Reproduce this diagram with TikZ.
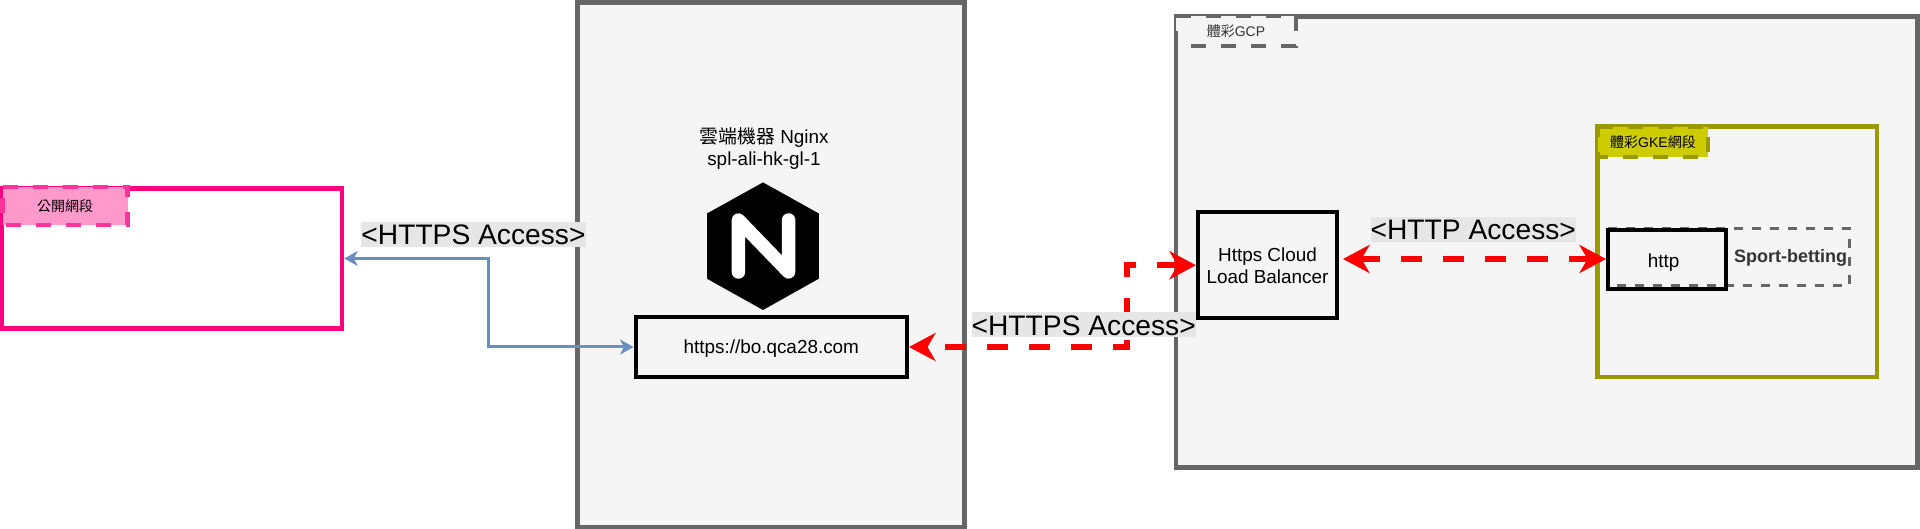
\documentclass[tikz,border=0pt]{standalone}
\usepackage{fontspec}
\setmainfont{Liberation Sans}
\newfontfamily\cjk{Noto Sans CJK TC}
\usetikzlibrary{arrows.meta}
\definecolor{greyline}{HTML}{666666}
\definecolor{greyfill}{HTML}{F5F5F5}
\definecolor{pinkline}{HTML}{FF0080}
\definecolor{pinkdash}{HTML}{FF3399}
\definecolor{pinkfill}{HTML}{FF99CC}
\definecolor{oliveline}{HTML}{999900}
\definecolor{olivefill}{HTML}{CCCC00}
\definecolor{bluelink}{HTML}{6C8EBF}
\definecolor{labelbg}{HTML}{E6E6E6}
\definecolor{darktext}{HTML}{333333}
\tikzset{
  zone/.style={draw=greyline,fill=greyfill,line width=4.5pt,inner sep=0pt},
  plainbox/.style={draw=black,line width=4pt,inner sep=0pt,align=center,font=\fontsize{18.9}{22}\selectfont},
  tagbox/.style={inner sep=0pt,outer sep=0pt,font=\fontsize{14}{16}\selectfont},
  tagline/.style={line width=4.5pt,dash pattern=on 15pt off 15pt},
  blueconn/.style={draw=bluelink,line width=3pt,>={Stealth[length=13.5pt,width=15pt,inset=4pt]}},
  redconn/.style={draw=red,line width=6pt,>={Stealth[length=26.5pt,width=28pt,inset=8pt]}},
  access/.style={fill=labelbg,inner xsep=0pt,inner ysep=0pt,text height=23pt,text depth=2pt,font=\fontsize{28.2}{30}\selectfont}
}
\begin{document}
\begin{tikzpicture}[x=1pt,y=-1pt]
\useasboundingbox (0,0) rectangle (1920,529);
% zones
\node[zone,minimum width=387pt,minimum height=524.5pt] (middle) at (771,264.75) {};
\node[zone,minimum width=741.5pt,minimum height=451.2pt] (gcp) at (1546.75,241.9) {};
\node[draw=pinkline,line width=4.5pt,inner sep=0pt,minimum width=340pt,minimum height=140pt] (pink) at (172,258.5) {};
\node[draw=oliveline,line width=4.5pt,inner sep=0pt,minimum width=279.5pt,minimum height=250.5pt] (gke) at (1737.25,251.75) {};
% tags
\node[tagbox,fill=pinkfill,minimum width=125pt,minimum height=38pt] (pinktag) at (65,206) {\cjk 公開網段};
\draw[tagline,pinkdash] (pinktag.north west) -- (pinktag.north east) -- (pinktag.south east) -- (pinktag.south west) -- cycle;
\node[tagbox,fill=greyfill,text=darktext,minimum width=120pt,minimum height=30pt] (gcptag) at (1236,31) {\cjk 體彩\normalfont GCP};
\draw[tagline,greyline] (gcptag.north west) -- (gcptag.north east) -- (gcptag.south east) -- (gcptag.south west) -- cycle;
\node[tagbox,fill=olivefill,minimum width=110pt,minimum height=30pt] (gketag) at (1653,142) {\cjk 體彩\normalfont GKE\cjk 網段};
\draw[tagline,oliveline] (gketag.north west) -- (gketag.north east) -- (gketag.south east) -- (gketag.south west) -- cycle;
% nginx
\node[align=center,inner sep=0pt,font=\fontsize{18.9}{22}\selectfont] (title) at (764,148.5) {{\cjk 雲端機器} Nginx\\spl-ali-hk-gl-1};
\fill[black] (763,182.4) -- (818.8,213.5) -- (818.8,278.7) -- (763,310) -- (707,278.7) -- (707,213.5) -- cycle;
\draw[white,line width=13.5pt,line cap=round,line join=round] (738.4,272) -- (738.4,220) -- (788.6,272) -- (788.6,220);
% boxes
\node[plainbox,fill=greyfill,minimum width=271.5pt,minimum height=60.6pt] (https) at (771.25,347) {\raisebox{-7pt}[8pt][8pt]{https://bo.qca28.com}};
\node[plainbox,fill=greyfill,minimum width=139pt,minimum height=106.5pt] (lb) at (1267.5,265.25) {Https Cloud\\Load Balancer};
\node[inner sep=0pt,outer sep=0pt,minimum width=241.5pt,minimum height=57pt,text width=237.5pt,align=right,text=darktext,font=\fontsize{18}{20}\bfseries\selectfont] (sport) at (1728.25,257.5) {Sport-betting};
\draw[greyline,line width=3pt,dash pattern=on 9pt off 9pt] (sport.north west) -- (sport.north east) -- (sport.south east) -- (sport.south west) -- cycle;
\node[plainbox,minimum width=118pt,minimum height=59.3pt] (httpnode) at (1667,259.35) {\raisebox{-8.3pt}[9pt][9pt]{http}\kern 7pt};
% connectors
\coordinate (bendblue) at (488.6,300);
\coordinate (bendred) at (1127,300);
\coordinate (lbright) at (1343,259);
\draw[blueconn,<->] (pink.east) -- (bendblue |- pink.east) -- (bendblue |- https.west) -- (https.west);
\draw[redconn,<->,dash pattern=on 21pt off 21pt,dash phase=23pt] (https.east) -- (bendred |- https.east) -- (bendred |- lb.west) -- (lb.west);
\draw[redconn,<->,dash pattern=on 21pt off 21pt,dash phase=1.5pt] (lbright) -- (lbright -| httpnode.west);
% access labels
\node[access] (acc1) at (473.5,234.5) {<HTTPS Access>};
\node[access] (acc2) at (1083.7,324.75) {<HTTPS Access>};
\node[access] (acc3) at (1473.3,229.5) {<HTTP Access>};
\end{tikzpicture}
\end{document}
